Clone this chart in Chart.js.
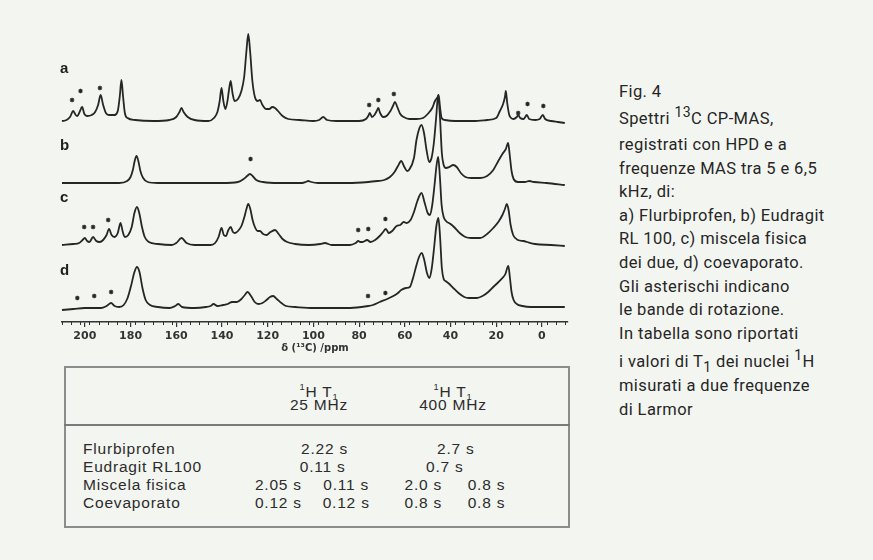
<!DOCTYPE html>
<html><head><meta charset="utf-8">
<script src="https://cdn.jsdelivr.net/npm/chart.js@4.4.1/dist/chart.umd.min.js"></script>
<style>
html,body{margin:0;padding:0;background:#f3f5f0;width:873px;height:560px;overflow:hidden;}
#wrap{position:absolute;left:0;top:0;width:600px;height:365px;}
.lbl{position:absolute;font:bold 15px "Liberation Sans",Arial,sans-serif;color:#1e1e1e;line-height:16px;}
.cap{position:absolute;left:619px;font:16.5px Roboto,sans-serif;letter-spacing:0.4px;color:#262626;line-height:20px;white-space:nowrap;}
.cap sup{font-size:0.85em;position:relative;top:-0.5em;vertical-align:baseline;line-height:0;}
.cap sub{font-size:0.85em;position:relative;top:0.35em;vertical-align:baseline;line-height:0;}
#tbl{position:absolute;left:64px;top:366px;width:502px;height:158px;border:2px solid #8c8c8c;}
#sep{position:absolute;left:64px;top:424px;width:506px;height:2px;background:#7a7a7a;}
.t{position:absolute;font:15.5px "Liberation Sans",Arial,sans-serif;letter-spacing:0.8px;color:#2c2c2c;white-space:nowrap;line-height:16px;}
.t sup,.t sub{font-size:0.6em;line-height:0;position:relative;vertical-align:baseline;}
.t sup{top:-0.8em;} .t sub{top:0.3em;}
</style></head>
<body>
<div id="wrap"><canvas id="c"></canvas></div>
<div class="lbl" style="left:60px;top:60px">a</div>
<div class="lbl" style="left:60px;top:137px">b</div>
<div class="lbl" style="left:60px;top:189px">c</div>
<div class="lbl" style="left:60px;top:262px">d</div>
<div id="tbl"></div><div id="sep"></div>
<div id="tableText"></div>
<div id="caption"></div>
<script>
// ---- DATA ----
const ppmTicks = [200,180,160,140,120,100,80,60,40,20,0];
const traceLabels = ['a','b','c','d'];
// [ppm, intensity above own baseline]
const traceA = [[210,0],[208,1],[206.5,4],[205.1,10],[204,6],[203.3,5],[202.3,9],[201.2,14],[200.2,7],[199,5],[197,6],[195.5,9],[194.2,16],[193.1,26],[192,16],[190.8,8],[189.5,6],[187,6],[185.6,10],[184.7,25],[184,41],[183.3,25],[182.5,8],[181.3,3],[178,1],[170,0],[163,1],[160,4],[158.6,9],[157.7,13],[156.8,9],[155,4],[152,1],[146,0],[143.5,3],[142,9],[141,20],[140.2,33],[139.4,20],[138.5,12],[137.6,20],[137,30],[136.2,40],[135.4,28],[134.5,20],[133,22],[131.5,30],[130.3,44],[129.3,70],[128.5,87],[127.7,70],[126.7,40],[125.6,24],[124.4,20],[123.4,21],[122.3,16],[120.8,12],[119.3,12],[118,14],[116.8,13],[115.5,10],[113.5,5],[111,2],[106,1],[100,0],[97.5,1],[95.7,4],[94,1],[90,0],[80,0],[77,2],[76,5],[75.3,8],[74.4,4],[73.3,6],[72.3,10],[71.6,13],[70.8,8],[69.5,4],[68,5],[66.3,10],[65.2,15],[64.3,19],[63.3,14],[62,7],[60.5,4],[58,2],[55,2],[52,3],[50,7],[48,13],[46.8,20],[45.6,24],[45.2,26],[44.6,14],[43.9,3],[42.5,1],[38,0],[30,0],[24,1],[20,3],[18.4,10],[17,17],[16.2,24],[15.8,30],[15.2,18],[14.3,6],[13.5,3],[12.5,2],[11,4],[10.4,6],[9.5,3],[8,2],[6.6,6],[5.6,2],[3,1],[1,2],[-0.4,6],[-1.4,2],[-4,0],[-7,-1],[-10,-2]];
const traceB = [[210,0],[195,0],[185,0],[181.5,2],[180,6],[179,13],[178.2,22],[177.4,27],[176.6,22],[175.7,12],[174.5,5],[172.5,1],[168,0],[140,0],[133,1],[130.5,4],[129,7],[127.8,9],[126.6,7],[125,3],[122,1],[115,0],[105,0],[103.3,1],[102.3,2],[101,1],[98,0],[85,0],[76,1],[72,2],[69,3],[66.5,6],[64.5,11],[63,17],[61.6,22],[60.2,16],[59,12],[58.2,13],[56,25],[54.9,43],[53.6,55],[52.7,58],[51.6,50],[50.5,33],[49.3,21],[48.3,25],[47.3,40],[46.3,65],[45.4,88],[44.6,65],[43.8,30],[43,18],[42,15],[40.5,16],[38.8,18],[37.3,16],[35.5,10],[33.5,6],[31,5],[27,5],[24,7],[21.3,13],[19.1,22],[17.3,29],[15.8,34],[14.8,40],[14.1,28],[13.3,12],[12.4,4],[10.5,1],[7.5,1],[5.5,2],[3.5,1],[-2,0],[-10,-2]];
const traceC = [[210,0],[205,1],[202.5,2],[201,5],[200,7],[199,4],[198,3],[196.4,8],[195,4],[193.5,3],[192,5],[190.5,10],[189.4,16],[188.3,10],[187,8],[185.6,12],[184.4,22],[183.4,13],[182.5,8],[181,10],[179.5,18],[178.3,32],[177.2,38],[176.2,32],[175,18],[173.8,8],[172,3],[168,1],[162,0],[160,2],[157.7,7],[155.5,2],[152,0],[145,0],[143,2],[141.5,8],[140.2,17],[139.2,10],[138.3,9],[137.2,15],[136.2,18],[135.2,13],[134.3,12],[133,14],[131.5,19],[130.2,28],[129.3,36],[128.5,41],[127.6,36],[126.6,25],[125.6,18],[124.4,14],[123.4,14],[122,11],[120.5,10],[118.8,13],[116.8,15],[115.2,11],[113.5,6],[111.5,3],[108,1],[102,0],[97,1],[95,2],[92,0],[84,0],[81.5,2],[80.4,4],[79.5,3],[78.5,3],[76.5,5],[75,3],[73,5],[71,9],[69.5,13],[68.3,16],[67,12],[65.5,14],[63.6,19],[62,20],[60.5,23],[59.2,22],[57.5,25],[56,33],[54.5,44],[52.7,52],[51.3,42],[50,32],[49,30],[48,40],[47,60],[46.1,80],[45.4,88],[44.7,70],[43.9,40],[43,28],[42,24],[40,21],[38.5,18],[36,12],[33.5,8],[31,7],[27,7],[24,11],[21.3,17],[19.1,23],[17.3,30],[16.2,36],[15.4,41],[14.6,35],[13.7,20],[12.6,10],[10.5,5],[8,4],[6.5,3],[3,1],[-4,0],[-10,-1]];
const traceD = [[210,-2],[205,-1],[200,0],[193,0],[190.5,2],[188.5,5],[187,2],[185,1],[183,3],[181.3,10],[179.8,22],[178.3,36],[177.2,41],[176.1,36],[174.8,20],[173.4,8],[171.5,3],[168,1],[163,0],[160.5,2],[159.1,4],[157.5,1],[152,0],[147,1],[145,2],[143.7,4],[142,2],[139.5,3],[137.5,4],[135.6,6],[133.5,6],[131.5,9],[130,13],[128.8,16],[127.3,12],[125.7,6],[124,4],[122.3,5],[120.5,8],[119,11],[117.6,12],[116,9],[114,5],[112,2],[108,1],[100,0],[85,0],[79,1],[76,2],[74,3],[71,6],[67.7,9],[65,12],[63,15],[61.6,18],[59.5,20],[57.8,21],[56.4,30],[55,42],[53.6,52],[52.6,55],[51.5,48],[50.3,35],[49.2,30],[48.2,40],[47.2,60],[46.2,82],[45.3,90],[44.6,72],[43.8,40],[43,29],[42.2,27],[40.5,24],[38.8,20],[36.5,15],[34,11],[32,10],[28.5,10],[26,12],[23.5,16],[21.3,21],[19,26],[17.3,30],[16,34],[15.2,40],[14.7,42],[14,30],[13.3,16],[12.4,8],[11,4],[8.5,2],[5,1],[0,1],[-10,1]];
// spinning sidebands (asterisks): [ppm, height above own baseline]
const asterA = [[205.6,21],[201.9,30],[193.4,33],[75.6,16],[71.6,21],[64.8,27],[10.4,8],[6.3,17],[-0.6,15]];
const asterB = [[127.5,24]];
const asterC = [[200.3,18],[196.4,18],[189.8,25],[80.4,15],[76,16],[68.5,26]];
const asterD = [[203.3,10],[195.9,12],[188.5,16],[76.1,12],[68.5,15]];
// table
const rowNames = ['Flurbiprofen','Eudragit RL100','Miscela fisica','Coevaporato'];
const t1at25 = [['2.22 s'],['0.11 s'],['2.05 s','0.11 s'],['0.12 s','0.12 s']];
const t1at400 = [['2.7 s'],['0.7 s'],['2.0 s','0.8 s'],['0.8 s','0.8 s']];
const colHeads = [['<sup>1</sup>H T<sub>1</sub>','25 MHz'],['<sup>1</sup>H T<sub>1</sub>','400 MHz']];
const captionLines = ['Fig. 4','Spettri <sup>13</sup>C CP-MAS,','registrati con HPD e a','frequenze MAS tra 5 e 6,5','kHz, di:','a) Flurbiprofen, b) Eudragit','RL 100, c) miscela fisica','dei due, d) coevaporato.','Gli asterischi indicano','le bande di rotazione.','In tabella sono riportati','i valori di T<sub>1</sub> dei nuclei <sup>1</sup>H','misurati a due frequenze','di Larmor'];

// ---- LAYOUT ----
const traceOffsets = [201,139,77,14];
const lineColor = '#262626';
const traces = [traceA,traceB,traceC,traceD];
const asters = [asterA,asterB,asterC,asterD];

const datasets = [];
traces.forEach((tr,i)=>{
  datasets.push({type:'line',data:tr.map(([p,h])=>({x:p,y:h+traceOffsets[i]})),
    borderColor:lineColor,borderWidth:1.8,pointRadius:0,cubicInterpolationMode:'monotone',fill:false,clip:false});
});
asters.forEach((as,i)=>{
  datasets.push({type:'scatter',data:as.map(([p,h])=>({x:p,y:h+traceOffsets[i]})),
    pointStyle:'star',pointRadius:2.3,borderColor:lineColor,backgroundColor:lineColor,pointBorderWidth:1.2,clip:false});
});

const minorTicks = {id:'minorTicks',afterDraw(chart){
  const s = chart.scales.x, ctx = chart.ctx, y0 = chart.chartArea.bottom;
  ctx.save(); ctx.strokeStyle='#333'; ctx.lineWidth=1;
  for (let v=-10; v<=210; v+=4){
    if (v%20===0) continue;
    const x = Math.round(s.getPixelForValue(v))+0.5;
    ctx.beginPath(); ctx.moveTo(x,y0); ctx.lineTo(x,y0+3); ctx.stroke();
  }
  ctx.restore();
}};

new Chart(document.getElementById('c'),{
  data:{datasets},
  options:{
    responsive:true,maintainAspectRatio:false,animation:false,
    layout:{padding:{left:62,right:32,top:20,bottom:0}},
    plugins:{legend:{display:false},tooltip:{enabled:false}},
    scales:{
      x:{type:'linear',reverse:true,min:-11.4,max:210,
        afterBuildTicks:s=>{s.ticks=ppmTicks.map(v=>({value:v}));},
        afterFit:s=>{s.height=43;},
        grid:{display:true,drawOnChartArea:false,drawTicks:true,tickLength:5,color:'#333',lineWidth:1.2},
        border:{display:true,color:'#333',width:1.5},
        ticks:{font:{family:'DejaVu Sans',weight:'bold',size:11},color:'#333',padding:3,maxRotation:0,autoSkip:false},
        title:{display:true,text:'δ (¹³C) /ppm',font:{family:'DejaVu Sans',weight:'bold',size:10},color:'#333',padding:{top:0,bottom:11}}
      },
      y:{display:false,min:0,max:302}
    }
  },
  plugins:[minorTicks]
});

// table text
const tt = document.getElementById('tableText');
function put(html,cx,cy,left){
  const d=document.createElement('div'); d.className='t'; d.innerHTML=html;
  d.style.top=(cy-8)+'px';
  if(left){d.style.left=cx+'px';} else {d.style.left=cx+'px'; d.style.transform='translateX(-50%)';}
  tt.appendChild(d);
}
const headX=[319,453], headY=[392,405];
colHeads.forEach((h,i)=>h.forEach((s,j)=>put(s,headX[i],headY[j])));
const rowY=[449,467,485,503];
const singleX=[[324.5,455.8],[322.7,444.8]];
const pairX=[278.4,346.2,423.3,486.5];
rowNames.forEach((n,r)=>{
  put(n,83,rowY[r],true);
  const vals=t1at25[r].concat(t1at400[r]);
  if(vals.length===2){ put(vals[0],singleX[r][0],rowY[r]); put(vals[1],singleX[r][1],rowY[r]); }
  else vals.forEach((v,k)=>put(v,pairX[k],rowY[r]));
});
// caption
const capY=[91.7,119.3,145,168.6,192.2,215.8,239.4,263,286.6,310.2,333.8,362.4,386,409.6];
const cp=document.getElementById('caption');
captionLines.forEach((l,i)=>{const d=document.createElement('div');d.className='cap';d.innerHTML=l;d.style.top=(capY[i]-10)+'px';cp.appendChild(d);});
</script>
</body></html>
